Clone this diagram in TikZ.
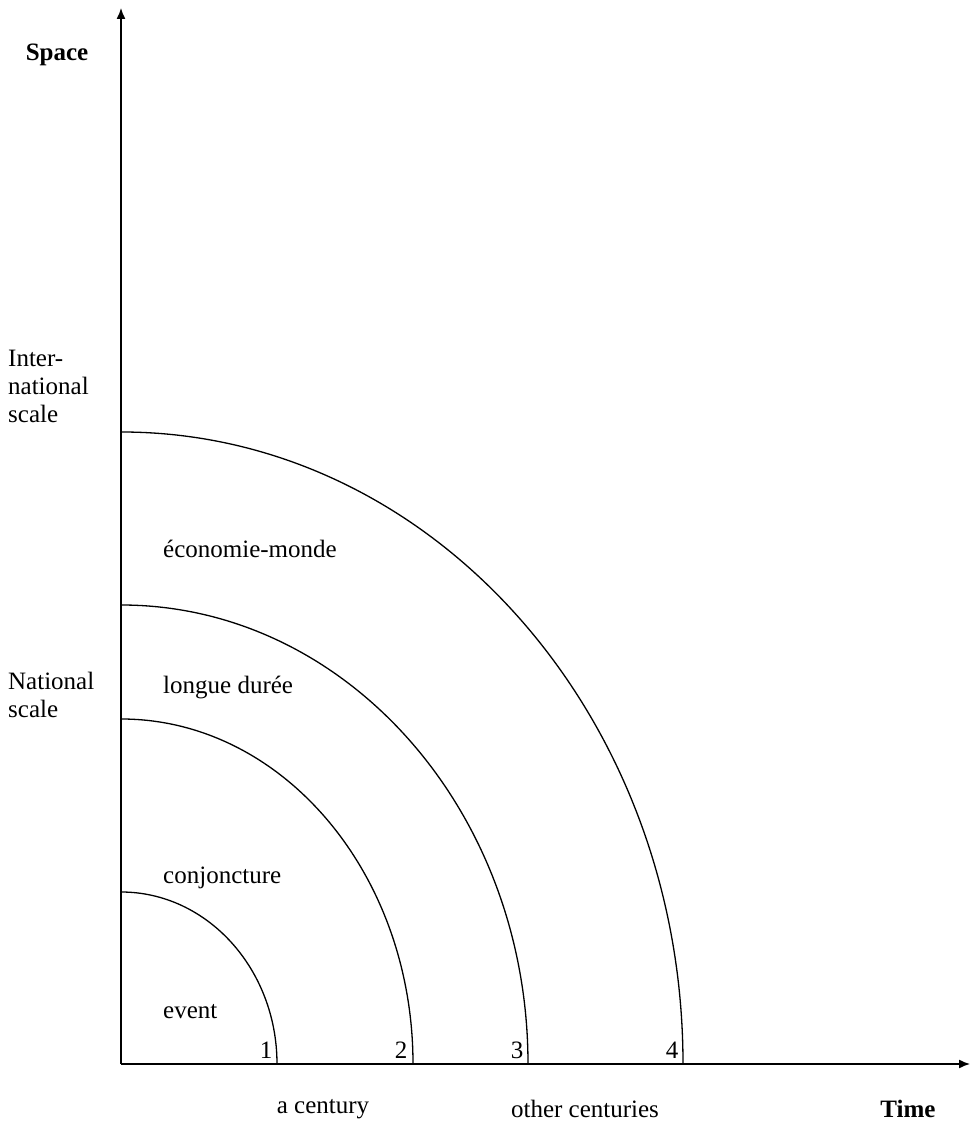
\documentclass[tikz,border=0pt]{standalone}
\usepackage{fontspec}
\setmainfont{Liberation Serif}
\usetikzlibrary{arrows.meta}
\begin{document}
\begin{tikzpicture}[x=1pt,y=1pt,
  lbl/.style={font=\fontsize{25}{28}\selectfont, inner sep=0pt},
  blbl/.style={font=\fontsize{25}{28}\selectfont\bfseries, inner sep=0pt},
  axis/.style={line width=1.4pt, -{Latex[length=11pt,width=9pt]}},
  arcline/.style={line width=1.3pt}]
\useasboundingbox[fill=white] (0,0) rectangle (975,1122);
\coordinate (O) at (121,58);
\coordinate (ytop) at (121,1114);
\coordinate (xend) at (970,58);
\draw[axis] (O) -- (ytop);
\draw[axis] (O) -- (xend);
% arcs
\draw[arcline] (277,58) arc[start angle=0,end angle=90,x radius=156,y radius=172];
\draw[arcline] (413,58) arc[start angle=0,end angle=90,x radius=292,y radius=345];
\draw[arcline] (528,58) arc[start angle=0,end angle=90,x radius=407,y radius=459];
\draw[arcline] (683,58) arc[start angle=0,end angle=90,x radius=562,y radius=632];
% labels
\node[blbl] (space) at (57,1067) {Space};
\node[lbl, anchor=west, align=left] (intl) at (8,736) {Inter-\\national\\scale};
\node[lbl, anchor=west, align=left] (natl) at (8,427) {National\\scale};
\node[lbl, anchor=west] (event) at (163,110) {event};
\node[lbl, anchor=west] (conj) at (163,244) {conjoncture};
\node[lbl, anchor=west] (longue) at (163,434) {longue durée};
\node[lbl, anchor=west] (eco) at (163,573) {économie-monde};
\node[lbl] (n1) at (266,72) {1};
\node[lbl] (n2) at (401,72) {2};
\node[lbl] (n3) at (517,72) {3};
\node[lbl] (n4) at (672,72) {4};
\node[lbl] (cent) at (323,13) {a century};
\node[lbl] (other) at (585,13) {other centuries};
\node[blbl] (time) at (908,13) {Time};
\end{tikzpicture}
\end{document}
